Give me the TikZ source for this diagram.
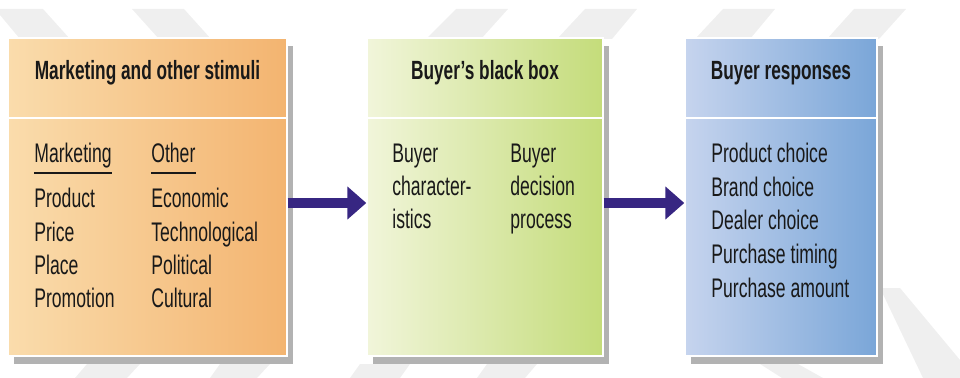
\documentclass[tikz,border=0pt]{standalone}
\usepackage{fontspec}
\setmainfont{Liberation Sans}[FakeStretch=0.655]
\usetikzlibrary{arrows.meta,shadows,fit}

\definecolor{flowblue}{RGB}{55,38,130}
\definecolor{orangeL}{RGB}{250,220,172}
\definecolor{orangeR}{RGB}{243,180,112}
\definecolor{greenL}{RGB}{241,245,218}
\definecolor{greenR}{RGB}{196,220,122}
\definecolor{blueL}{RGB}{198,212,238}
\definecolor{blueR}{RGB}{122,166,216}
\definecolor{wmgray}{RGB}{239,239,239}

\begin{document}
\begin{tikzpicture}[x=0.02cm, y=-0.02cm,
    panel/.style={inner sep=0pt, draw=white, line width=0.8pt,
        drop shadow={shadow xshift=0.12cm, shadow yshift=-0.16cm, fill=black!30, opacity=1}},
    head/.style={anchor=base, inner sep=0pt, text=black!90, font=\fontsize{15}{17}\selectfont\bfseries},
    body/.style={anchor=base west, inner sep=0pt, text=black!90, font=\fontsize{15.3}{17}\selectfont},
    flow/.style={line width=0.2cm, flowblue, -{Triangle[length=0.38cm, width=0.64cm]}},
    divider/.style={white, line width=1.5pt},
    rule/.style={black!90, line width=1.2pt}]
    \useasboundingbox (0,0) rectangle (960,378);

    % faint watermark stripes in the margins
    \fill[wmgray] (-5,9) -- (43,9) -- (70,39) -- (20,39) -- cycle;
    \fill[wmgray] (132,9) -- (184,9) -- (211,39) -- (159,39) -- cycle;
    \fill[wmgray] (456,9) -- (508,9) -- (481,39) -- (426,39) -- cycle;
    \fill[wmgray] (585,9) -- (637,9) -- (612,39) -- (557,39) -- cycle;
    \fill[wmgray] (723,9) -- (775,9) -- (750,39) -- (695,39) -- cycle;
    \fill[wmgray] (854,9) -- (906,9) -- (879,39) -- (827,39) -- cycle;
    \fill[wmgray] (87,364) -- (140,364) -- (127,378) -- (75,378) -- cycle;
    \fill[wmgray] (220,364) -- (270,364) -- (257,378) -- (210,378) -- cycle;
    \fill[wmgray] (360,364) -- (410,364) -- (400,378) -- (350,378) -- cycle;
    \fill[wmgray] (487,364) -- (537,364) -- (525,378) -- (477,378) -- cycle;
    \fill[wmgray] (760,364) -- (798,364) -- (823,378) -- (782,378) -- cycle;
    \fill[wmgray] (880,288) -- (900,288) -- (960,360) -- (960,378) -- (923,378) -- cycle;

    % the three boxes
    \node[panel, left color=orangeL, right color=orangeR, fit={(8,38) (287,356)}] (stimuli) {};
    \node[panel, left color=greenL, right color=greenR, fit={(367,38) (603,356)}] (blackbox) {};
    \node[panel, left color=blueL, right color=blueR, fit={(685,38) (877,356)}] (responses) {};

    \coordinate (cut) at (0,118);
    \draw[divider] (stimuli.west |- cut) -- (stimuli.east |- cut);
    \draw[divider] (blackbox.west |- cut) -- (blackbox.east |- cut);
    \draw[divider] (responses.west |- cut) -- (responses.east |- cut);

    \node[head] (stimhead) at (147.5,80) {Marketing and other stimuli};
    \node[head] (boxhead) at (485,80) {Buyer’s black box};
    \node[head] (resphead) at (781,80) {Buyer responses};

    % stimuli
    \node[body] (mkthead) at (34,163) {Marketing};
    \node[body] (othhead) at (151,163) {Other};
    \draw[rule] ([yshift=-0.2cm]mkthead.base west) -- ([yshift=-0.2cm]mkthead.base east);
    \draw[rule] ([yshift=-0.2cm]othhead.base west) -- ([yshift=-0.2cm]othhead.base east);
    \foreach \txt [count=\i] in {Product,Price,Place,Promotion}
        \node[body] (mkt\i) at (34,{174.7+33.3*\i}) {\txt};
    \foreach \txt [count=\i] in {Economic,Technological,Political,Cultural}
        \node[body] (oth\i) at (151,{174.7+33.3*\i}) {\txt};

    % black box
    \foreach \txt [count=\i] in {Buyer,character-,istics}
        \node[body] (bchar\i) at (392,{130+33*\i}) {\txt};
    \foreach \txt [count=\i] in {Buyer,decision,process}
        \node[body] (bdec\i) at (510,{130+33*\i}) {\txt};

    % responses
    \foreach \txt [count=\i] in {Product choice,Brand choice,Dealer choice,Purchase timing,Purchase amount}
        \node[body] (resp\i) at (711,{129.5+33.5*\i}) {\txt};

    \draw[flow] ([yshift=-0.12cm]stimuli.east) -- ([yshift=-0.12cm]blackbox.west);
    \draw[flow] ([yshift=-0.12cm]blackbox.east) -- ([yshift=-0.12cm]responses.west);
\end{tikzpicture}
\end{document}
